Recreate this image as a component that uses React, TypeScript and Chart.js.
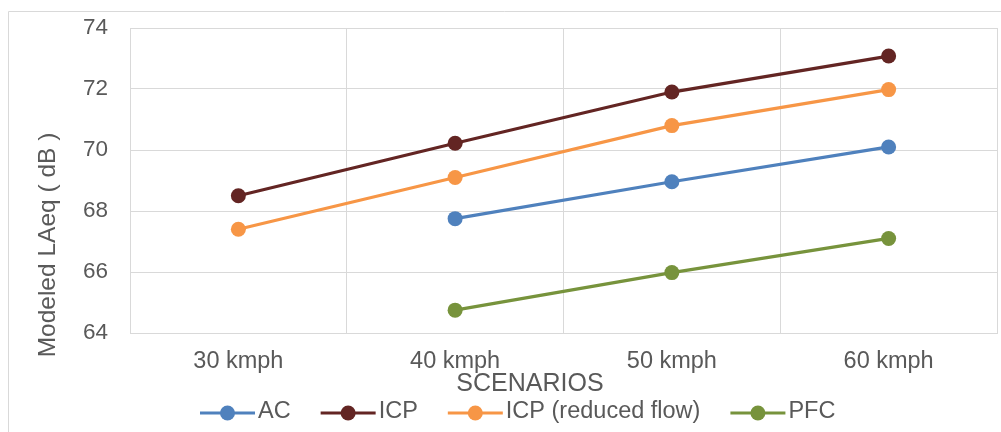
import React, { useEffect, useRef } from "react";
import { Chart, registerables } from "chart.js";

Chart.register(...registerables);

const categories = ["30 kmph", "40 kmph", "50 kmph", "60 kmph"];
const acValues = [null, 67.75, 68.96, 70.1];
const icpValues = [68.5, 70.22, 71.9, 73.08];
const icpReducedValues = [67.4, 69.1, 70.8, 71.98];
const pfcValues = [null, 64.75, 65.98, 67.1];
const yTickValues = [64, 66, 68, 70, 72, 74];
const seriesNames = ["AC", "ICP", "ICP (reduced flow)", "PFC"];
const seriesColors = ["#4F81BD", "#632523", "#F79646", "#77933C"];
const yAxisTitle = "Modeled LAeq ( dB )";
const xAxisTitle = "SCENARIOS";

const FONT = "'Liberation Sans', Arial, sans-serif";
const TEXT = "#595959";
const GRID = "#D9D9D9";

const decorPlugin = {
  id: "decor",
  beforeDraw(chart: any) {
    const ctx = chart.ctx;
    ctx.save();
    ctx.strokeStyle = GRID;
    ctx.lineWidth = 1;
    ctx.beginPath();
    ctx.moveTo(8.5, chart.height);
    ctx.lineTo(8.5, 11.5);
    ctx.lineTo(chart.width, 11.5);
    ctx.stroke();
    ctx.restore();
  },
  afterDraw(chart: any) {
    const ctx = chart.ctx;
    // y axis title
    ctx.save();
    ctx.fillStyle = TEXT;
    ctx.font = `24.5px ${FONT}`;
    ctx.textAlign = "center";
    ctx.textBaseline = "middle";
    ctx.translate(48, 245);
    ctx.rotate(-Math.PI / 2);
    ctx.fillText(yAxisTitle, 0, 0);
    ctx.restore();
    // x axis title
    ctx.save();
    ctx.fillStyle = TEXT;
    ctx.font = `25px ${FONT}`;
    ctx.textAlign = "center";
    ctx.textBaseline = "middle";
    ctx.fillText(xAxisTitle, 530, 384);
    ctx.restore();
    // legend
    ctx.save();
    ctx.font = `23.5px ${FONT}`;
    ctx.textBaseline = "middle";
    ctx.textAlign = "left";
    let x = 200;
    const y = 413;
    seriesNames.forEach((name, i) => {
      const c = seriesColors[i];
      ctx.strokeStyle = c;
      ctx.lineWidth = 3;
      ctx.beginPath();
      ctx.moveTo(x, y);
      ctx.lineTo(x + 55, y);
      ctx.stroke();
      ctx.fillStyle = c;
      ctx.beginPath();
      ctx.arc(x + 27.5, y, 7.5, 0, Math.PI * 2);
      ctx.fill();
      ctx.fillStyle = TEXT;
      ctx.fillText(name, x + 58, y - 1);
      x += 58 + ctx.measureText(name).width + 30;
    });
    ctx.restore();
  },
};

export default function App() {
  const ref = useRef<HTMLCanvasElement>(null);
  useEffect(() => {
    if (!ref.current) return;
    const allSeries = [acValues, icpValues, icpReducedValues, pfcValues];
    const chart = new Chart(ref.current, {
      type: "line",
      data: {
        labels: categories,
        datasets: allSeries.map((vals, i) => ({
          label: seriesNames[i],
          data: vals,
          borderColor: seriesColors[i],
          backgroundColor: seriesColors[i],
          borderWidth: 3.2,
          pointRadius: 7.5,
          pointBorderWidth: 0,
          pointBorderColor: seriesColors[i],
          pointBackgroundColor: seriesColors[i],
          tension: 0,
          spanGaps: false,
        })),
      },
      options: {
        responsive: false,
        animation: false,
        layout: { autoPadding: false, padding: { left: 0, top: 28, right: 4, bottom: 0 } },
        plugins: {
          legend: { display: false },
          tooltip: { enabled: false },
          title: { display: false },
        },
        scales: {
          x: {
            type: "category",
            offset: true,
            grid: { display: true, color: GRID, lineWidth: 1, offset: true, drawTicks: false },
            border: { display: true, color: GRID, width: 1 },
            ticks: {
              color: TEXT,
              font: { family: FONT, size: 23.5 },
              padding: 14,
              maxRotation: 0,
              autoSkip: false,
            },
            afterFit: (s: any) => {
              s.height = 99;
              s.paddingLeft = 0;
              s.paddingRight = 0;
            },
          },
          y: {
            min: 64,
            max: 74,
            grid: { display: true, color: GRID, lineWidth: 1, drawTicks: false },
            border: { display: true, color: GRID, width: 1 },
            ticks: {
              color: TEXT,
              font: { family: FONT, size: 22.5 },
              padding: 22,
            },
            afterBuildTicks: (s: any) => {
              s.ticks = yTickValues.map((v) => ({ value: v }));
            },
            afterFit: (s: any) => {
              s.width = 130;
              s.paddingTop = 0;
              s.paddingBottom = 0;
            },
          },
        },
      },
      plugins: [decorPlugin],
    });
    return () => chart.destroy();
  }, []);
  return (
    <div style={{ position: "fixed", left: 0, top: 0, width: 1001, height: 432, background: "#fff" }}>
      <canvas ref={ref} width={1001} height={432} style={{ display: "block" }} />
    </div>
  );
}
